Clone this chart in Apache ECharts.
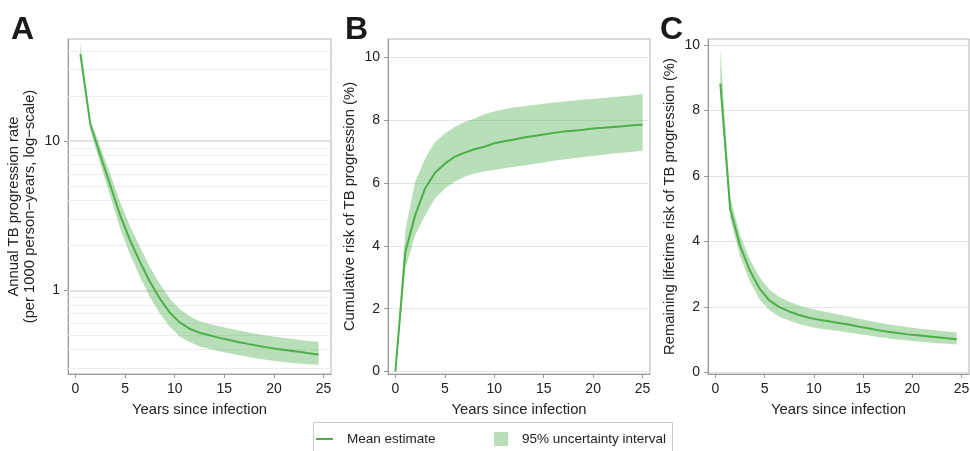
<!DOCTYPE html>
<html><head><meta charset="utf-8">
<script src="https://cdn.jsdelivr.net/npm/echarts@6/dist/echarts.min.js"></script>
<style>html,body{margin:0;padding:0;background:#fff}#c{width:970px;height:451px}</style>
</head><body><div id="c"></div>
<script>
// ---- data ----
const yearsA = [0.5, 1.5, 2.5, 3.5, 4.5, 5.5, 6.5, 7.5, 8.5, 9.5, 10.5, 11.5, 12.5, 13.5, 14.5, 15.5, 16.5, 17.5, 18.5, 19.5, 20.5, 21.5, 22.5, 23.5, 24.5];
const meanA  = [38.2, 12.9, 8.06, 5.07, 3.19, 2.17, 1.55, 1.14, 0.88, 0.71, 0.61, 0.553, 0.52, 0.50, 0.48, 0.465, 0.449, 0.436, 0.424, 0.413, 0.403, 0.395, 0.387, 0.379, 0.372];
const upperA = [45, 13.9, 9.2, 6.0, 3.9, 2.7, 1.95, 1.43, 1.1, 0.88, 0.75, 0.67, 0.62, 0.595, 0.575, 0.555, 0.537, 0.522, 0.507, 0.495, 0.485, 0.475, 0.466, 0.458, 0.45];
const lowerA = [37, 11.9, 7.0, 4.3, 2.6, 1.74, 1.23, 0.9, 0.7, 0.57, 0.49, 0.45, 0.42, 0.405, 0.39, 0.378, 0.367, 0.357, 0.348, 0.34, 0.333, 0.328, 0.323, 0.32, 0.317];

const yearsB = [0, 1, 2, 3, 4, 5, 6, 7, 8, 9, 10, 11, 12, 13, 14, 15, 16, 17, 18, 19, 20, 21, 22, 23, 24, 25];
const meanB  = [0, 3.81, 4.98, 5.83, 6.33, 6.62, 6.84, 6.97, 7.08, 7.16, 7.27, 7.33, 7.39, 7.45, 7.50, 7.55, 7.60, 7.64, 7.67, 7.70, 7.74, 7.76, 7.79, 7.81, 7.84, 7.86];
const upperB = [0, 4.5, 6.04, 6.78, 7.31, 7.58, 7.79, 7.95, 8.06, 8.19, 8.28, 8.35, 8.41, 8.45, 8.49, 8.53, 8.57, 8.60, 8.63, 8.66, 8.68, 8.71, 8.74, 8.77, 8.80, 8.84];
const lowerB = [0, 3.27, 4.34, 4.98, 5.51, 5.83, 6.04, 6.2, 6.31, 6.38, 6.42, 6.47, 6.52, 6.56, 6.61, 6.66, 6.71, 6.75, 6.79, 6.83, 6.86, 6.9, 6.94, 6.97, 7.0, 7.03];

const yearsC = [0.5, 1.5, 2.5, 3.5, 4.5, 5.5, 6.5, 7.5, 8.5, 9.5, 10.5, 11.5, 12.5, 13.5, 14.5, 15.5, 16.5, 17.5, 18.5, 19.5, 20.5, 21.5, 22.5, 23.5, 24.5];
const meanC  = [8.82, 5.00, 3.87, 3.11, 2.55, 2.19, 1.99, 1.86, 1.75, 1.67, 1.61, 1.56, 1.51, 1.46, 1.40, 1.35, 1.29, 1.24, 1.20, 1.16, 1.13, 1.10, 1.07, 1.04, 1.01];
const upperC = [9.85, 5.35, 4.2, 3.45, 2.9, 2.52, 2.3, 2.16, 2.04, 1.96, 1.89, 1.83, 1.77, 1.71, 1.64, 1.58, 1.52, 1.47, 1.42, 1.38, 1.34, 1.31, 1.28, 1.25, 1.22];
const lowerC = [8.6, 4.7, 3.55, 2.78, 2.22, 1.9, 1.7, 1.58, 1.48, 1.4, 1.34, 1.30, 1.26, 1.22, 1.17, 1.13, 1.08, 1.04, 1.00, 0.97, 0.94, 0.92, 0.89, 0.87, 0.85];

const xTicks = [0, 5, 10, 15, 20, 25];
const yTicksA = [1, 10];
const minorGridA = [0.3, 0.4, 0.5, 0.6, 0.7, 0.8, 0.9, 2, 3, 4, 5, 6, 7, 8, 9, 20, 30, 40];
const yTicksBC = [0, 2, 4, 6, 8, 10];
const panelLetters = ['A', 'B', 'C'];
const yTitles = ['Annual TB progression rate\n(per 1000 person\u2212years, log\u2212scale)',
                 'Cumulative risk of TB progression (%)',
                 'Remaining lifetime risk of TB progression (%)'];
const xTitle = 'Years since infection';
const lineName = 'Mean estimate';
const bandName = '95% uncertainty interval';

// ---- styles ----
const FF = "'Liberation Sans', Arial, Helvetica, sans-serif";
const GREEN = '#4daf4a';
const BAND = 'rgba(77,175,74,0.4)';
const TXT = '#222';
const NAME_FS = 14.8;

const chart = echarts.init(document.getElementById('c'), null, {renderer: 'canvas'});

const grids = [
  {left: 68, top: 39, width: 263, height: 335},
  {left: 388, top: 39, width: 262, height: 335},
  {left: 708, top: 39, width: 261, height: 335}
].map(g => Object.assign(g, {show: true, borderColor: '#b3b3b3', borderWidth: 1, backgroundColor: 'transparent', containLabel: false, outerBoundsMode: 'none'}));

function xAxis(i) {
  return {
    type: 'value', gridIndex: i, min: -0.75, max: 25.75,
    name: xTitle, nameLocation: 'middle', nameGap: 28,
    nameTextStyle: {fontSize: NAME_FS, color: TXT, fontFamily: FF},
    axisLine: {show: true, onZero: false, lineStyle: {color: '#999', width: 1}},
    axisTick: {show: true, length: 4, lineStyle: {color: '#999'}, customValues: xTicks},
    axisLabel: {margin: 8, fontSize: 14, color: TXT, fontFamily: FF, customValues: xTicks,
      formatter: v => xTicks.indexOf(v) >= 0 ? String(v) : ''},
    splitLine: {show: false}
  };
}

function yAxisBC(i, min, max) {
  return {
    type: 'value', gridIndex: i, min: min, max: max,
    name: yTitles[i], nameLocation: 'middle', nameGap: 30,
    nameTextStyle: {fontSize: NAME_FS, color: TXT, fontFamily: FF, lineHeight: 16},
    axisLine: {show: true, onZero: false, lineStyle: {color: '#999', width: 1}},
    axisTick: {show: true, length: 4, lineStyle: {color: '#999'}, customValues: yTicksBC},
    axisLabel: {margin: 8, fontSize: 14, color: TXT, fontFamily: FF, customValues: yTicksBC,
      formatter: v => yTicksBC.indexOf(v) >= 0 ? String(v) : ''},
    splitLine: {show: true, lineStyle: {color: '#e4e4e4', width: 1}}
  };
}

const yAxes = [
  {
    type: 'log', logBase: 10, gridIndex: 0, min: 0.275, max: 48.2,
    name: yTitles[0], nameLocation: 'middle', nameGap: 30,
    nameTextStyle: {fontSize: NAME_FS, color: TXT, fontFamily: FF, lineHeight: 16},
    axisLine: {show: true, onZero: false, lineStyle: {color: '#999', width: 1}},
    axisTick: {show: true, length: 4, lineStyle: {color: '#999'}, customValues: yTicksA},
    axisLabel: {margin: 8, fontSize: 14, color: TXT, fontFamily: FF, customValues: yTicksA,
      formatter: v => { const l = Math.log10(v); return Math.abs(l - Math.round(l)) < 1e-6 ? String(Math.round(v)) : ''; }},
    splitLine: {show: false}
  },
  yAxisBC(1, -0.08, 10.59),
  yAxisBC(2, -0.05, 10.18)
];

function bandSeries(i, xs, lo, hi) {
  return {
    type: 'custom', name: bandName, xAxisIndex: i, yAxisIndex: i, z: 2,
    itemStyle: {color: BAND}, silent: true, animation: false,
    data: xs.map((t, k) => [t, lo[k], hi[k]]),
    encode: {x: 0, y: [1, 2]},
    renderItem: (params, api) => {
      if (params.dataIndex !== 0) return null;
      const top = xs.map((t, k) => api.coord([t, hi[k]]));
      const bot = xs.map((t, k) => api.coord([t, lo[k]])).reverse();
      return {type: 'polygon', shape: {points: top.concat(bot)}, style: {fill: BAND}};
    }
  };
}

function lineSeries(i, xs, ys, extra) {
  return Object.assign({
    type: 'line', name: lineName, xAxisIndex: i, yAxisIndex: i, z: 3,
    data: xs.map((t, k) => [t, ys[k]]),
    symbol: 'none', showSymbol: false, smooth: false, animation: false,
    lineStyle: {color: GREEN, width: 2}, itemStyle: {color: GREEN}
  }, extra || {});
}

const gridMarks = {
  markLine: {
    silent: true, symbol: ['none', 'none'], label: {show: false}, z: 1, animation: false,
    data: minorGridA.map(v => ({yAxis: v, lineStyle: {color: '#eeeeee', width: 1, type: 'solid'}}))
      .concat(yTicksA.map(v => ({yAxis: v, lineStyle: {color: '#d9d9d9', width: 1.5, type: 'solid'}})))
  }
};

const option = {
  backgroundColor: '#fff',
  animation: false,
  textStyle: {fontFamily: FF},
  title: [
    {text: panelLetters[0], left: 11, top: 14},
    {text: panelLetters[1], left: 345, top: 14},
    {text: panelLetters[2], left: 660, top: 14}
  ].map(t => Object.assign(t, {padding: 0, textStyle: {fontSize: 32, fontWeight: 'bold', color: '#1a1a1a', fontFamily: FF}})),
  grid: grids,
  xAxis: [xAxis(0), xAxis(1), xAxis(2)],
  yAxis: yAxes,
  legend: [
    {data: [{name: lineName, icon: 'rect'}], left: 316, top: 432, padding: 0, itemWidth: 17, itemHeight: 2,
     selectedMode: false, textStyle: {fontSize: 13.5, color: TXT, fontFamily: FF, padding: [0, 0, 0, 9]}},
    {data: [{name: bandName, icon: 'rect'}], left: 494, top: 432, padding: 0, itemWidth: 14, itemHeight: 14,
     selectedMode: false, textStyle: {fontSize: 13.5, color: TXT, fontFamily: FF, padding: [0, 0, 0, 9]}}
  ],
  graphic: [
    {type: 'rect', shape: {x: 313.5, y: 422.5, width: 359, height: 40},
     style: {fill: 'none', stroke: '#c8c8c8', lineWidth: 1}, silent: true, z: 0}
  ],
  series: [
    bandSeries(0, yearsA, lowerA, upperA),
    lineSeries(0, yearsA, meanA, gridMarks),
    bandSeries(1, yearsB, lowerB, upperB),
    lineSeries(1, yearsB, meanB),
    bandSeries(2, yearsC, lowerC, upperC),
    lineSeries(2, yearsC, meanC)
  ]
};
chart.setOption(option);
</script></body></html>
